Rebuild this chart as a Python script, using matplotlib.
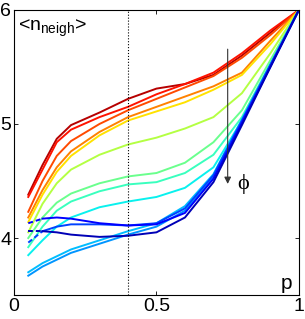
import numpy as np
import matplotlib.pyplot as plt

plt.rcParams['font.family'] = ['Liberation Sans', 'DejaVu Sans']
plt.rcParams['mathtext.fontset'] = 'custom'
plt.rcParams['mathtext.rm'] = 'Liberation Sans'
plt.rcParams['mathtext.it'] = 'Liberation Sans:italic'

# rewiring probability
p = [0.05, 0.1, 0.15, 0.2, 0.3, 0.4, 0.5, 0.6, 0.7, 0.8, 0.9, 1.0]

# <n_neigh> curves, from low phi (red) to high phi (blue)
n_c1 = [4.38, 4.64, 4.87, 4.99, 5.10, 5.22, 5.31, 5.35, 5.43, 5.60, 5.80, 6.0]
n_c2 = [4.36, 4.60, 4.84, 4.95, 5.06, 5.15, 5.26, 5.35, 5.45, 5.62, 5.82, 6.0]
n_c3 = [4.23, 4.50, 4.72, 4.85, 5.00, 5.12, 5.22, 5.32, 5.42, 5.58, 5.78, 6.0]
n_c4 = [4.18, 4.42, 4.62, 4.76, 4.93, 5.06, 5.15, 5.24, 5.33, 5.45, 5.73, 6.0]
n_c5 = [4.14, 4.38, 4.58, 4.72, 4.90, 5.03, 5.11, 5.19, 5.30, 5.43, 5.70, 6.0]
n_c6 = [4.05, 4.30, 4.48, 4.60, 4.73, 4.82, 4.88, 4.96, 5.06, 5.27, 5.62, 6.0]
n_c7 = [4.00, 4.18, 4.31, 4.39, 4.48, 4.54, 4.57, 4.66, 4.84, 5.12, 5.56, 6.0]
n_c8 = [3.92, 4.10, 4.24, 4.32, 4.41, 4.47, 4.49, 4.57, 4.73, 5.06, 5.53, 6.0]
n_c9 = [3.85, 3.98, 4.10, 4.18, 4.27, 4.32, 4.36, 4.44, 4.62, 5.03, 5.51, 6.0]
n_c10 = [3.70, 3.78, 3.84, 3.90, 3.98, 4.06, 4.13, 4.28, 4.56, 5.04, 5.52, 6.0]
n_c11 = [3.67, 3.75, 3.81, 3.87, 3.95, 4.03, 4.10, 4.24, 4.53, 5.02, 5.51, 6.0]
n_c12 = [3.96, 4.06, 4.10, 4.12, 4.12, 4.11, 4.13, 4.26, 4.55, 5.03, 5.52, 6.0]
n_c13 = [4.13, 4.17, 4.18, 4.17, 4.13, 4.11, 4.12, 4.22, 4.52, 5.01, 5.50, 6.0]
n_c14 = [4.06, 4.06, 4.05, 4.03, 4.01, 4.02, 4.05, 4.18, 4.49, 4.99, 5.50, 6.0]

curves = [n_c1, n_c2, n_c3, n_c4, n_c5, n_c6, n_c7,
          n_c8, n_c9, n_c10, n_c11, n_c12, n_c13, n_c14]
cpos = [0.95, 0.89, 0.83, 0.77, 0.67, 0.57, 0.48,
        0.42, 0.36, 0.31, 0.27, 0.19, 0.11, 0.05]
dashed_start = [False] * 11 + [True] * 3

fig = plt.figure(figsize=(3.05, 3.19), dpi=100)
ax = fig.add_axes([0.046, 0.075, 0.934, 0.894])

cmap = plt.get_cmap('jet')
for y, c, d in zip(curves, cpos, dashed_start):
    col = cmap(c)
    if d:
        ax.plot(p[:2], y[:2], color=col, lw=1.4, ls=(0, (2.5, 1.5)))
        ax.plot(p[1:], y[1:], color=col, lw=1.4)
    else:
        ax.plot(p, y, color=col, lw=1.4)

ax.axvline(0.4, color='k', lw=0.8, ls=':')
ax.annotate('', xy=(0.75, 4.45), xytext=(0.75, 5.68),
            arrowprops=dict(arrowstyle='-|>', color='#333333', lw=0.8,
                            mutation_scale=10))
ax.text(0.785, 4.47, 'ϕ', fontsize=16, va='center', ha='left',
        family=['Liberation Serif', 'DejaVu Serif'])
ax.text(0.015, 5.93, r'<n$_{\mathrm{neigh}}$>', fontsize=14, va='top')
ax.text(0.935, 3.52, 'p', fontsize=15, va='bottom')

ax.set_xlim(0, 1)
ax.set_ylim(3.5, 6)
ax.set_xticks([0, 0.5, 1])
ax.set_xticklabels(['0', '0.5', '1'])
ax.set_yticks([4, 5, 6])
ax.tick_params(direction='in', top=True, right=True, labelsize=14,
               length=3, width=0.6, pad=2)
for s in ax.spines.values():
    s.set_linewidth(0.8)

plt.savefig('out.png', dpi=100)
